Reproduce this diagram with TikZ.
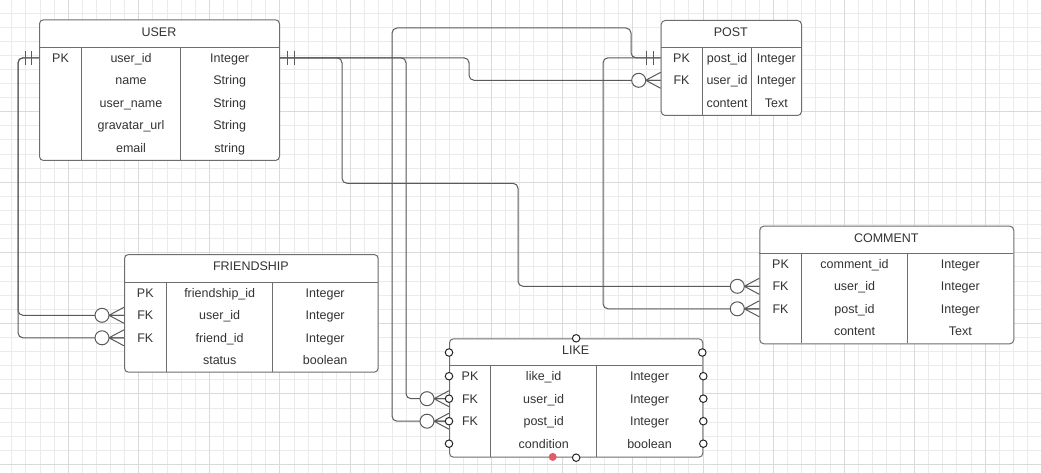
\documentclass[tikz,border=0pt]{standalone}
\usepackage{fontspec}
\setmainfont{Liberation Sans}
\definecolor{tcol}{HTML}{6E6E6E}
\definecolor{lcol}{HTML}{5A5A5A}
\definecolor{txtcol}{HTML}{333333}
\definecolor{gminor}{HTML}{EBEBEB}
\definecolor{gmajor}{HTML}{DADADA}
\definecolor{reddot}{HTML}{E35A6A}
\tikzset{
  gridminor/.style={draw=gminor, line width=1pt},
  gridmajor/.style={draw=gmajor, line width=1pt},
  entity/.style={draw=tcol, fill=white, rounded corners=4pt, line width=1pt, inner sep=0pt, anchor=north west},
  tline/.style={draw=tcol, line width=1pt},
  cell/.style={inner sep=0pt, text height=9pt, text depth=0pt, font=\fontsize{12.5}{14}\selectfont, text=txtcol},
  conn/.style={draw=lcol, line width=1pt, rounded corners=5pt},
  cpoint/.style={circle, draw=black!85, fill=white, minimum size=7.5pt, inner sep=0pt, line width=1pt},
  rpoint/.style={circle, fill=reddot, minimum size=8pt, inner sep=0pt},
  crowfoot/.pic={
    \draw[lcol, line width=1pt] (-15,0) -- (0,-8) (-15,0) -- (0,0) (-15,0) -- (0,8);
    \draw[lcol, fill=white, line width=1pt] (-22,0) circle[radius=7];
  },
  onemark/.pic={
    \draw[lcol, line width=1pt] (-7.5,-7) -- (-7.5,7) (-14,-7) -- (-14,7);
  },
}
\begin{document}
\begin{tikzpicture}[x=1pt,y=-1pt]
\useasboundingbox (0,0) rectangle (1041,473);
\fill[white] (0,0) rectangle (1041,473);
% grid
\foreach \i in {0,...,73} {\draw[gridminor] ({11.88+14.106*\i},0) -- ({11.88+14.106*\i},473);}
\foreach \k in {0,...,32} {\draw[gridminor] (0,{13.03+14.106*\k}) -- (1041,{13.03+14.106*\k});}
\foreach \i in {-1,...,14} {\draw[gridmajor] ({68.3+70.53*\i},0) -- ({68.3+70.53*\i},473);}
\foreach \k in {-1,...,6} {\draw[gridmajor] (0,{182.3+70.53*\k}) -- (1041,{182.3+70.53*\k});}

% ---------- tables (outlines) ----------
\node[entity, minimum width=240pt, minimum height=140.7pt] (user) at (39,19.3) {};
\node[entity, minimum width=140.3pt, minimum height=95pt] (post) at (660.7,20) {};
\node[entity, minimum width=253.7pt, minimum height=117.7pt] (friend) at (124,254) {};
\node[entity, minimum width=254pt, minimum height=117.6pt] (comment) at (759.3,225.7) {};
\node[entity, minimum width=253.3pt, minimum height=118.4pt] (like) at (449,338.3) {};

% internal lines
\draw[tline] (39,47.3) -- (279,47.3) (81.7,47.3) -- (81.7,160) (180.3,47.3) -- (180.3,160);
\draw[tline] (660.7,47.3) -- (801,47.3) (702.3,47.3) -- (702.3,115) (751.7,47.3) -- (751.7,115);
\draw[tline] (124,282.3) -- (377.7,282.3) (166.7,282.3) -- (166.7,371.7) (272.7,282.3) -- (272.7,371.7);
\draw[tline] (759.3,253.3) -- (1013.3,253.3) (801.7,253.3) -- (801.7,343.3) (907.3,253.3) -- (907.3,343.3);
\draw[tline] (449,365.7) -- (702.3,365.7) (490.7,365.7) -- (490.7,456.7) (596.7,365.7) -- (596.7,456.7);

% ---------- texts ----------
% USER
\node[cell] (user-h) at (159,31.8) {USER};
\node[cell] (user-pk) at (60.5,57.8) {PK};
\node[cell] (user-n1) at (131,57.8) {user\_id};
\node[cell] (user-t1) at (229.7,57.8) {Integer};
\node[cell] (user-n2) at (131,80.3) {name};
\node[cell] (user-t2) at (229.7,80.3) {String};
\node[cell] (user-n3) at (131,102.8) {user\_name};
\node[cell] (user-t3) at (229.7,102.8) {String};
\node[cell] (user-n4) at (131,125.3) {gravatar\_url};
\node[cell] (user-t4) at (229.7,125.3) {String};
\node[cell] (user-n5) at (131,147.8) {email};
\node[cell] (user-t5) at (229.7,147.8) {string};
% POST
\node[cell] (post-h) at (730.8,31.8) {POST};
\node[cell] (post-pk) at (681.5,57.8) {PK};
\node[cell] (post-n1) at (727,57.8) {post\_id};
\node[cell] (post-t1) at (776.4,57.8) {Integer};
\node[cell] (post-fk) at (681.5,80.3) {FK};
\node[cell] (post-n2) at (727,80.3) {user\_id};
\node[cell] (post-t2) at (776.4,80.3) {Integer};
\node[cell] (post-n3) at (727,102.8) {content};
\node[cell] (post-t3) at (776.4,102.8) {Text};
% FRIENDSHIP
\node[cell] (friend-h) at (250.9,266.2) {FRIENDSHIP};
\node[cell] (friend-pk) at (145.3,292.8) {PK};
\node[cell] (friend-n1) at (219.7,292.8) {friendship\_id};
\node[cell] (friend-t1) at (325.2,292.8) {Integer};
\node[cell] (friend-fk1) at (145.3,315.3) {FK};
\node[cell] (friend-n2) at (219.7,315.3) {user\_id};
\node[cell] (friend-t2) at (325.2,315.3) {Integer};
\node[cell] (friend-fk2) at (145.3,337.8) {FK};
\node[cell] (friend-n3) at (219.7,337.8) {friend\_id};
\node[cell] (friend-t3) at (325.2,337.8) {Integer};
\node[cell] (friend-n4) at (219.7,360.3) {status};
\node[cell] (friend-t4) at (325.2,360.3) {boolean};
% COMMENT
\node[cell] (comment-h) at (886.3,238.2) {COMMENT};
\node[cell] (comment-pk) at (780.5,263.8) {PK};
\node[cell] (comment-n1) at (854.5,263.8) {comment\_id};
\node[cell] (comment-t1) at (960.3,263.8) {Integer};
\node[cell] (comment-fk1) at (780.5,286.3) {FK};
\node[cell] (comment-n2) at (854.5,286.3) {user\_id};
\node[cell] (comment-t2) at (960.3,286.3) {Integer};
\node[cell] (comment-fk2) at (780.5,308.8) {FK};
\node[cell] (comment-n3) at (854.5,308.8) {post\_id};
\node[cell] (comment-t3) at (960.3,308.8) {Integer};
\node[cell] (comment-n4) at (854.5,331.3) {content};
\node[cell] (comment-t4) at (960.3,331.3) {Text};
% LIKE
\node[cell] (like-h) at (575.7,350) {LIKE};
\node[cell] (like-pk) at (470,376.2) {PK};
\node[cell] (like-n1) at (543.7,376.2) {like\_id};
\node[cell] (like-t1) at (649.5,376.2) {Integer};
\node[cell] (like-fk1) at (470,398.7) {FK};
\node[cell] (like-n2) at (543.7,398.7) {user\_id};
\node[cell] (like-t2) at (649.5,398.7) {Integer};
\node[cell] (like-fk2) at (470,421.2) {FK};
\node[cell] (like-n3) at (543.7,421.2) {post\_id};
\node[cell] (like-t3) at (649.5,421.2) {Integer};
\node[cell] (like-n4) at (543.7,443.7) {condition};
\node[cell] (like-t4) at (649.5,443.7) {boolean};

% ---------- connectors ----------
\draw[conn] (user.west |- user-pk) -- (18,57.8) -- (18,315.3) -- (friend.west |- friend-fk1);
\draw[conn] (user.west |- user-pk) -- (18,57.8) -- (18,337.8) -- (friend.west |- friend-fk2);
\draw[conn] (user.east |- user-pk) -- (469,57.8) -- (469,80.3) -- (post.west |- post-fk);
\draw[conn] (user.east |- user-pk) -- (406,57.8) -- (406,398.7) -- (like.west |- like-fk1);
\draw[conn] (user.east |- user-pk) -- (342,57.8) -- (342,183.3) -- (518,183.3) -- (518,286.3) -- (comment.west |- comment-fk1);
\draw[conn] (post.west |- post-pk) -- (631,57.8) -- (631,28) -- (392,28) -- (392,421.2) -- (like.west |- like-fk2);
\draw[conn] (post.west |- post-pk) -- (603,57.8) -- (603,308.8) -- (comment.west |- comment-fk2);

% ---------- end marks ----------
\pic at (user.west |- user-pk) {onemark};
\pic[xscale=-1] at (user.east |- user-pk) {onemark};
\pic at (post.west |- post-pk) {onemark};
\pic at (post.west |- post-fk) {crowfoot};
\pic at (friend.west |- friend-fk1) {crowfoot};
\pic at (friend.west |- friend-fk2) {crowfoot};
\pic at (comment.west |- comment-fk1) {crowfoot};
\pic at (comment.west |- comment-fk2) {crowfoot};
\pic at (like.west |- like-fk1) {crowfoot};
\pic at (like.west |- like-fk2) {crowfoot};

% ---------- LIKE connection points ----------
\node[cpoint] (lp-t) at (like.north) {};
\node[cpoint] (lp-b) at (like.south) {};
\node[rpoint] (lp-r) at (552.7,456.9) {};
\node[cpoint] (lp-l0) at (449,352.5) {};
\node[cpoint] (lp-l1) at (like.west |- like-pk) {};
\node[cpoint] (lp-l2) at (like.west |- like-fk1) {};
\node[cpoint] (lp-l3) at (like.west |- like-fk2) {};
\node[cpoint] (lp-l4) at (like.west |- like-n4) {};
\node[cpoint] (lp-r0) at (702.3,352.5) {};
\node[cpoint] (lp-r1) at (like.east |- like-t1) {};
\node[cpoint] (lp-r2) at (like.east |- like-t2) {};
\node[cpoint] (lp-r3) at (like.east |- like-t3) {};
\node[cpoint] (lp-r4) at (like.east |- like-t4) {};
\end{tikzpicture}
\end{document}
